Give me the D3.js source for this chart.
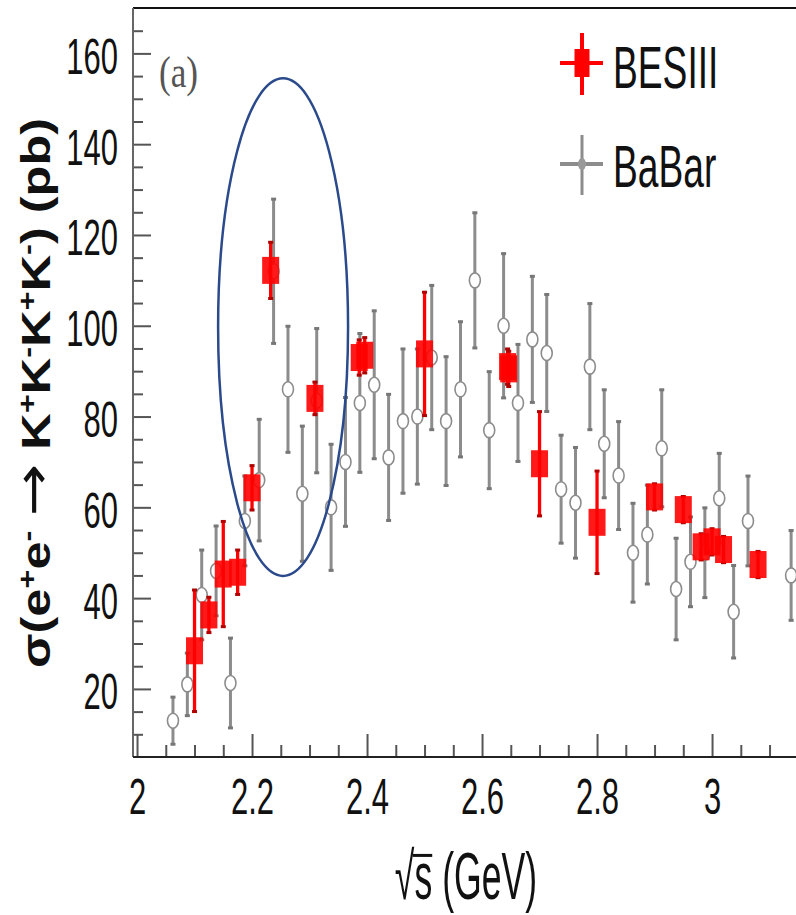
<!DOCTYPE html>
<html>
<head>
<meta charset="utf-8">
<script src="https://cdn.jsdelivr.net/npm/d3@7"></script>
<style>
  html, body { margin: 0; padding: 0; background: #fff; }
  svg { display: block; }
</style>
</head>
<body>
<svg id="chart" width="796" height="915"></svg>
<script>
// ---------------- data ----------------
const xTickValues = [2, 2.2, 2.4, 2.6, 2.8, 3];
const xTickLabels = ["2", "2.2", "2.4", "2.6", "2.8", "3"];
const yTickValues = [20, 40, 60, 80, 100, 120, 140, 160];
const yTickLabels = ["20", "40", "60", "80", "100", "120", "140", "160"];

const besiiiX   = [2.1000, 2.1250, 2.1500, 2.1750, 2.2000, 2.2324, 2.3094, 2.3864, 2.3960, 2.5000,
                   2.6444, 2.6464, 2.7000, 2.8000, 2.9000, 2.9500, 2.9810, 3.0000, 3.0200, 3.0800];
const besiiiY   = [28.4, 36.3, 45.3, 45.7, 64.3, 112.2, 84.0, 93.0, 93.5, 93.8,
                   91.0, 90.5, 69.6, 56.7, 62.3, 59.5, 51.3, 52.4, 50.7, 47.4];
const besiiiErr = [13.5, 4.0, 11.7, 5.0, 5.0, 6.3, 3.7, 4.0, 4.0, 13.7,
                   4.0, 4.0, 11.6, 11.4, 3.0, 3.0, 3.0, 3.0, 3.0, 3.0];

const babarX   = [2.0625, 2.0875, 2.1125, 2.1375, 2.1625, 2.1875, 2.2125, 2.2375, 2.2625, 2.2875,
                  2.3125, 2.3375, 2.3625, 2.3875, 2.4125, 2.4375, 2.4625, 2.4875, 2.5125, 2.5375,
                  2.5625, 2.5875, 2.6125, 2.6375, 2.6625, 2.6875, 2.7125, 2.7375, 2.7625, 2.7875,
                  2.8125, 2.8375, 2.8625, 2.8875, 2.9125, 2.9375, 2.9625, 2.9875, 3.0125, 3.0375,
                  3.0625, 3.1375];
const babarY   = [13, 21, 40.7, 46, 21.3, 57, 66, 112, 86, 63,
                  83.5, 60, 70, 83, 87, 71, 79, 80, 93, 79,
                  86, 110, 77, 100, 83, 97, 94, 64, 61, 91,
                  74, 67, 50, 54, 73, 42, 48, 50, 62, 37,
                  57, 45];
const babarErr = [5.3, 7, 10, 10, 10, 10, 13.5, 16, 14, 15,
                  16, 14, 14.3, 15.4, 16.4, 14, 16, 15, 16, 14.3,
                  15, 15, 13, 16, 13, 14, 13, 12, 12.3, 14,
                  12, 12, 11, 11, 13, 11.3, 10, 10, 10, 10.3,
                  10, 10];

const seriesNames = ["BESIII", "BaBar"];
const panelLabel = "(a)";
// highlighted region (ellipse annotation) in data units
const highlightX = [2.141, 2.367];
const highlightY = [44.9, 154.5];

// ---------------- layout ----------------
const plot = { left: 133, top: 8, right: 796, bottom: 757 };
const RED = "#ff0000", GRAY = "#8c8c8c";
const SANS = "'Liberation Sans', Arial, Helvetica, sans-serif";
const SX = 0.62; // horizontal condensation of labels

const svg = d3.select("#chart");
const x = d3.scaleLinear().domain([1.993, 3.146]).range([plot.left, plot.right]);
const y = d3.scaleLinear().domain([5, 170]).range([plot.bottom, plot.top]);

// frame
svg.append("line").attr("x1", plot.left).attr("x2", plot.right)
  .attr("y1", plot.top).attr("y2", plot.top)
  .attr("stroke", "#111").attr("stroke-width", 2);

// ---------------- axes ----------------
const xMinor = d3.range(2.05, 3.15, 0.05).filter(v => Math.abs(v*5 - Math.round(v*5)) > 1e-6);
const gxMinor = svg.append("g").attr("transform", `translate(0,${plot.bottom})`)
  .call(d3.axisBottom(x).tickValues(xMinor).tickSize(-12).tickFormat(""));
const gx = svg.append("g").attr("transform", `translate(0,${plot.bottom})`)
  .call(d3.axisBottom(x).tickValues(xTickValues).tickSize(-23).tickPadding(22)
        .tickFormat((d, i) => xTickLabels[i]));
[gx, gxMinor].forEach(g => {
  g.select(".domain").remove();
  g.selectAll(".tick line").attr("stroke", "#555").attr("stroke-width", 2);
});
gx.selectAll(".tick text")
  .attr("font-family", SANS).attr("font-size", 50).attr("fill", "#111")
  .attr("transform", `scale(${SX},1)`);

const yMinor = d3.range(10, 170, 5).filter(v => v % 20 !== 0);
const gyMinor = svg.append("g").attr("transform", `translate(${plot.left},0)`)
  .call(d3.axisLeft(y).tickValues(yMinor).tickSize(-10).tickFormat(""));
const gy = svg.append("g").attr("transform", `translate(${plot.left},0)`)
  .call(d3.axisLeft(y).tickValues(yTickValues).tickSize(-18).tickPadding(15)
        .tickFormat((d, i) => yTickLabels[i]));
[gy, gyMinor].forEach(g => {
  g.select(".domain").remove();
  g.selectAll(".tick line").attr("stroke", "#555").attr("stroke-width", 2);
});
gy.selectAll(".tick text")
  .attr("font-family", SANS).attr("font-size", 50).attr("fill", "#111")
  .attr("x", -15 / SX).attr("dy", "0.4em")
  .attr("transform", `scale(${SX},1)`);

// axis lines
svg.append("line").attr("x1", plot.left).attr("x2", plot.left)
  .attr("y1", plot.top).attr("y2", plot.bottom)
  .attr("stroke", "#666").attr("stroke-width", 2);
svg.append("line").attr("x1", plot.left).attr("x2", plot.right)
  .attr("y1", plot.bottom).attr("y2", plot.bottom)
  .attr("stroke", "#222").attr("stroke-width", 2);

// ---------------- BaBar ----------------
const babar = babarX.map((v, i) => ({ x: v, y: babarY[i], e: babarErr[i] }));
const gB = svg.append("g");
gB.selectAll("line.eb").data(babar).join("line")
  .attr("x1", d => x(d.x)).attr("x2", d => x(d.x))
  .attr("y1", d => y(d.y + d.e)).attr("y2", d => y(d.y - d.e))
  .attr("stroke", GRAY).attr("stroke-width", 3);
gB.selectAll("rect.capT").data(babar).join("rect")
  .attr("x", d => x(d.x) - 2.5).attr("y", d => y(d.y + d.e) - 1)
  .attr("width", 5).attr("height", 3).attr("fill", "#777");
gB.selectAll("rect.capB").data(babar).join("rect")
  .attr("x", d => x(d.x) - 2.5).attr("y", d => y(d.y - d.e) - 2)
  .attr("width", 5).attr("height", 3).attr("fill", "#777");
gB.selectAll("ellipse").data(babar).join("ellipse")
  .attr("cx", d => x(d.x)).attr("cy", d => y(d.y))
  .attr("rx", 5.5).attr("ry", 7.5)
  .attr("fill", "#fff").attr("stroke", GRAY).attr("stroke-width", 1.6);

// ---------------- BESIII ----------------
const bes = besiiiX.map((v, i) => ({ x: v, y: besiiiY[i], e: besiiiErr[i] }));
const gR = svg.append("g");
gR.selectAll("line").data(bes).join("line")
  .attr("x1", d => x(d.x)).attr("x2", d => x(d.x))
  .attr("y1", d => y(d.y + d.e)).attr("y2", d => y(d.y - d.e))
  .attr("stroke", RED).attr("stroke-width", 3.3);
gR.selectAll("rect.capT").data(bes).join("rect")
  .attr("x", d => x(d.x) - 2.5).attr("y", d => y(d.y + d.e) - 1)
  .attr("width", 5).attr("height", 3).attr("fill", "#b00000");
gR.selectAll("rect.capB").data(bes).join("rect")
  .attr("x", d => x(d.x) - 2.5).attr("y", d => y(d.y - d.e) - 2)
  .attr("width", 5).attr("height", 3).attr("fill", "#b00000");
gR.selectAll("rect.sq").data(bes).join("rect")
  .attr("x", d => x(d.x) - 8.5).attr("y", d => y(d.y) - 13.5)
  .attr("width", 17).attr("height", 27)
  .attr("fill", RED).attr("fill-opacity", 0.9);

// ---------------- annotation ellipse ----------------
svg.append("ellipse")
  .attr("cx", (x(highlightX[0]) + x(highlightX[1])) / 2)
  .attr("cy", (y(highlightY[0]) + y(highlightY[1])) / 2)
  .attr("rx", (x(highlightX[1]) - x(highlightX[0])) / 2)
  .attr("ry", (y(highlightY[0]) - y(highlightY[1])) / 2)
  .attr("fill", "none").attr("stroke", "#2b4a8b").attr("stroke-width", 2.5);

// ---------------- panel label ----------------
svg.append("text")
  .attr("transform", "translate(159,87) scale(0.8,1)")
  .attr("font-family", "'Liberation Serif', 'Times New Roman', serif")
  .attr("font-size", 44).attr("fill", "#555").text(panelLabel);

// ---------------- legend ----------------
const leg = svg.append("g");
// BESIII
leg.append("line").attr("x1", 560).attr("x2", 603).attr("y1", 63).attr("y2", 63)
  .attr("stroke", RED).attr("stroke-width", 4);
leg.append("line").attr("x1", 582).attr("x2", 582).attr("y1", 33).attr("y2", 95)
  .attr("stroke", RED).attr("stroke-width", 4);
leg.append("rect").attr("x", 574.5).attr("y", 49).attr("width", 15).attr("height", 28).attr("fill", RED);
leg.append("text").attr("transform", `translate(613,88) scale(${SX},1)`)
  .attr("font-family", SANS).attr("font-size", 60).attr("fill", "#111").text(seriesNames[0]);
// BaBar
leg.append("line").attr("x1", 560).attr("x2", 603).attr("y1", 164).attr("y2", 164)
  .attr("stroke", GRAY).attr("stroke-width", 4);
leg.append("line").attr("x1", 582).attr("x2", 582).attr("y1", 135).attr("y2", 195)
  .attr("stroke", GRAY).attr("stroke-width", 3);
leg.append("ellipse").attr("cx", 582).attr("cy", 164).attr("rx", 4).attr("ry", 6).attr("fill", "#999");
leg.append("text").attr("transform", `translate(613,187) scale(${SX},1)`)
  .attr("font-family", SANS).attr("font-size", 60).attr("fill", "#111").text(seriesNames[1]);

// ---------------- axis titles ----------------
const yl = svg.append("text")
  .attr("text-anchor", "middle")
  .attr("font-family", SANS).attr("font-size", 40).attr("font-weight", "bold")
  .attr("fill", "#111");
const parts = [["σ(e", 0], ["+", 1], ["e", 0], ["-", 1], [" ", 0], ["→", 2], [" K", 0], ["+", 1], ["K", 0], ["-", 1],
               ["K", 0], ["+", 1], ["K", 0], ["-", 1], [") (pb)", 0]];
parts.forEach(([t, kind]) => {
  const ts = yl.append("tspan").text(t);
  if (kind === 1) ts.attr("font-size", 26).attr("baseline-shift", "55%");
  if (kind === 2) ts.attr("font-family", "'DejaVu Sans', sans-serif").attr("font-weight", "normal").attr("font-size", 50);
});
const Y_LABEL_SPAN = 550;
const Y_LABEL_MID = 393;
function fitYLabel() {
  const w = yl.node().getBBox().width;
  yl.attr("transform", `translate(50,${Y_LABEL_MID}) rotate(-90) scale(${Y_LABEL_SPAN / w},1)`);
}
fitYLabel();
if (document.fonts && document.fonts.ready) document.fonts.ready.then(fitYLabel);

const XL_T = "translate(466,899) scale(0.54,1)";
const xl = svg.append("text")
  .attr("transform", XL_T)
  .attr("text-anchor", "middle")
  .attr("font-family", SANS).attr("font-size", 66).attr("fill", "#111");
xl.append("tspan").text("√s (GeV)");
// overbar of the square root across "s"
const bar = svg.append("line").attr("transform", XL_T)
  .attr("stroke", "#111").attr("stroke-width", 3);
function placeBar() {
  const n = xl.node();
  const r = n.getExtentOfChar(0), s = n.getExtentOfChar(1);
  bar.attr("x1", r.x + r.width - 3).attr("x2", s.x + s.width)
     .attr("y1", r.y + 0.22 * r.height).attr("y2", r.y + 0.22 * r.height);
}
placeBar();
if (document.fonts && document.fonts.ready) document.fonts.ready.then(placeBar);
</script>
</body>
</html>
